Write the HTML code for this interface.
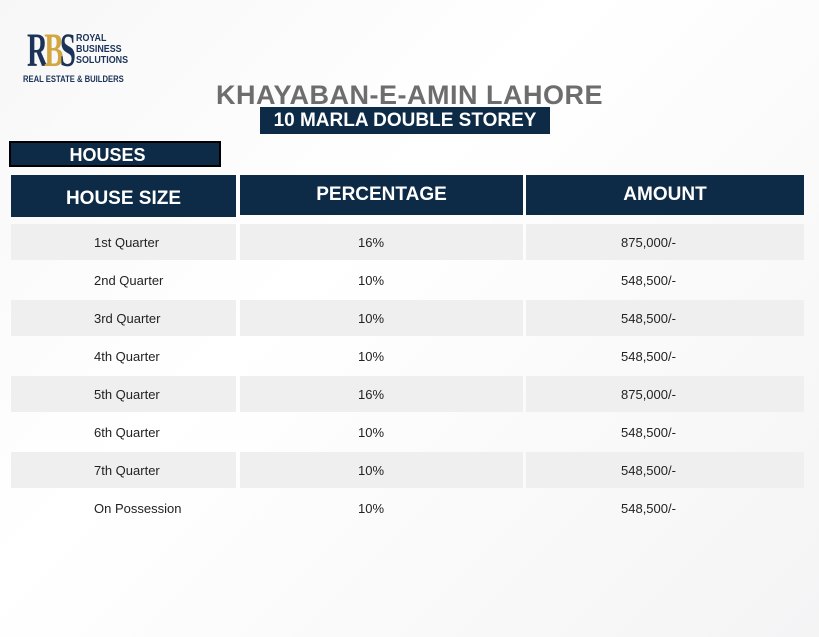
<!DOCTYPE html>
<html><head><style>
body{margin:0;width:819px;height:637px;overflow:hidden;background:linear-gradient(135deg,#f7f7f8,#fff 40%,#f4f4f5);font-family:"Liberation Sans",sans-serif;position:relative}
.a{position:absolute}
.hd{position:absolute;top:175px;height:42px;background:#0d2a47;color:#fff;font-weight:bold;font-size:19px;display:flex;align-items:center;justify-content:center}
.r{position:absolute;height:36px;font-size:13px;color:#222;display:flex;align-items:center}
</style></head><body>
<div class="a" style="left:27px;top:26px;font-family:'Liberation Serif',serif;font-size:48px;font-weight:bold;color:#1b3358;letter-spacing:-6px;line-height:50px;transform:scaleX(.6);transform-origin:left">R<span style="color:#d2a640">B</span>S</div>
<div class="a" style="left:76px;top:33px;font-size:10.5px;font-weight:bold;color:#1b3358;line-height:11px;transform:scaleX(.85);transform-origin:left">ROYAL<br>BUSINESS<br>SOLUTIONS</div>
<div class="a" style="left:23px;top:74px;font-size:9px;font-weight:bold;color:#1b3358;transform:scaleX(.85);transform-origin:left">REAL ESTATE &amp; BUILDERS</div>
<div class="a" style="left:0;width:819px;top:80px;text-align:center;font-size:27px;font-weight:bold;color:#6d6d6d;letter-spacing:0.5px">KHAYABAN-E-AMIN LAHORE</div>
<div class="a" style="left:260px;top:107px;width:290px;height:27px;background:#0d2a47;color:#fff;font-weight:bold;font-size:19px;text-align:center;line-height:27px">10 MARLA DOUBLE STOREY</div>
<div class="a" style="left:9px;top:141px;width:168px;padding-right:40px;height:22px;background:#0d2a47;border:2px solid #000;color:#fff;font-weight:bold;font-size:18px;line-height:24px;text-align:center;padding-left:0">&nbsp;&nbsp;&nbsp;&nbsp;&nbsp;HOUSES</div>
<div class="hd" style="left:11px;width:225px;padding-top:5px;box-sizing:border-box">HOUSE SIZE</div>
<div class="hd" style="left:240px;width:283px;height:40px">PERCENTAGE</div>
<div class="hd" style="left:526px;width:278px;height:40px">AMOUNT</div>
<div id="rows"></div>
<script>
var d=[["1st Quarter","16%","875,000/-"],["2nd Quarter","10%","548,500/-"],["3rd Quarter","10%","548,500/-"],["4th Quarter","10%","548,500/-"],["5th Quarter","16%","875,000/-"],["6th Quarter","10%","548,500/-"],["7th Quarter","10%","548,500/-"],["On Possession","10%","548,500/-"]];
var h="";d.forEach(function(r,i){var t=224+i*38,bg=i%2==0?"#efefef":"transparent";
h+='<div class="r" style="left:11px;width:225px;top:'+t+'px;background:'+bg+';padding-left:83px;box-sizing:border-box">'+r[0]+'</div>';
h+='<div class="r" style="left:240px;width:283px;top:'+t+'px;background:'+bg+';padding-left:118px;box-sizing:border-box">'+r[1]+'</div>';
h+='<div class="r" style="left:526px;width:278px;top:'+t+'px;background:'+bg+';padding-left:95px;box-sizing:border-box">'+r[2]+'</div>';});
document.getElementById("rows").innerHTML=h;
</script>
</body></html>
